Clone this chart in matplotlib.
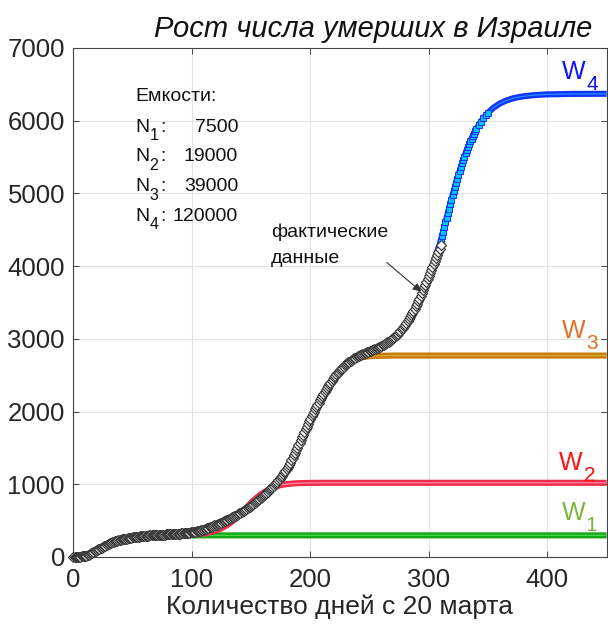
import matplotlib
matplotlib.use('Agg')
import matplotlib.pyplot as plt
import numpy as np

plt.rcParams['font.family'] = ['Liberation Sans', 'DejaVu Sans']

# ---------------- data ----------------
title = 'Рост числа умерших в Израиле'
xlabel = 'Количество дней с 20 марта'
capacity_header = 'Емкости:'
capacity_subs = ['1', '2', '3', '4']
capacity_values = ['7500', '19000', '39000', '120000']
wave_subs = ['1', '2', '3', '4']

# actual data (daily from 20 March)
fact_days = np.arange(0, 311)
fact_vals = [
    2, 2, 3, 3, 4, 5, 6, 7, 9, 11,
    14, 19, 24, 32, 40, 49, 58, 67, 76, 85,
    95, 104, 113, 121, 130, 138, 147, 155, 164, 172,
    180, 187, 194, 200, 207, 213, 219, 225, 230, 235,
    240, 243, 246, 249, 252, 254, 257, 260, 263, 265,
    268, 270, 273, 275, 277, 279, 282, 284, 286, 288,
    290, 291, 293, 294, 296, 297, 298, 299, 301, 302,
    303, 304, 305, 306, 307, 308, 309, 309, 310, 311,
    312, 313, 314, 315, 316, 317, 318, 319, 320, 321,
    322, 323, 325, 326, 328, 329, 331, 333, 335, 337,
    340, 342, 345, 348, 352, 355, 359, 363, 367, 371,
    375, 381, 387, 393, 400, 406, 413, 419, 426, 433,
    440, 446, 453, 460, 467, 474, 481, 488, 495, 502,
    510, 518, 527, 535, 544, 552, 561, 570, 579, 588,
    598, 608, 618, 628, 639, 649, 660, 671, 682, 693,
    705, 717, 730, 743, 756, 769, 783, 797, 811, 825,
    840, 855, 870, 885, 900, 916, 932, 948, 965, 982,
    1000, 1018, 1036, 1055, 1074, 1095, 1116, 1139, 1162, 1187,
    1212, 1240, 1268, 1299, 1330, 1363, 1396, 1431, 1466, 1502,
    1538, 1574, 1610, 1647, 1684, 1721, 1758, 1794, 1830, 1865,
    1900, 1933, 1966, 1998, 2030, 2061, 2092, 2122, 2152, 2181,
    2210, 2238, 2266, 2293, 2320, 2346, 2372, 2397, 2422, 2446,
    2470, 2490, 2510, 2529, 2548, 2566, 2584, 2601, 2618, 2634,
    2650, 2663, 2676, 2688, 2699, 2710, 2720, 2730, 2740, 2750,
    2760, 2768, 2775, 2782, 2789, 2796, 2803, 2810, 2817, 2824,
    2830, 2837, 2843, 2850, 2857, 2864, 2871, 2878, 2885, 2892,
    2900, 2909, 2919, 2929, 2939, 2950, 2961, 2973, 2985, 2997,
    3010, 3025, 3040, 3056, 3073, 3091, 3110, 3130, 3150, 3170,
    3190, 3215, 3240, 3267, 3294, 3323, 3352, 3383, 3414, 3447,
    3480, 3516, 3552, 3590, 3628, 3667, 3706, 3746, 3787, 3828,
    3870, 3910, 3950, 3990, 4030, 4070, 4110, 4152, 4195, 4242,
    4290,
]

# model waves (cumulative)
w1_days = [60, 70, 80, 90, 100, 110, 120, 130, 450]
w1_vals = [272, 284, 290, 294, 296, 297, 297, 297, 297]

w2_days = [100, 110, 120, 125, 130, 135, 140, 145, 150, 155, 160, 165,
           170, 175, 180, 185, 190, 200, 210, 450]
w2_vals = [305, 320, 360, 395, 440, 500, 575, 660, 745, 820, 880, 930,
           965, 988, 1002, 1010, 1015, 1019, 1020, 1020]

w3_days = [170, 175, 180, 185, 190, 195, 200, 205, 210, 215, 220, 225,
           230, 235, 240, 245, 250, 260, 270, 450]
w3_vals = [1025, 1070, 1170, 1330, 1520, 1720, 1900, 2060, 2200, 2340, 2470, 2580,
           2660, 2710, 2738, 2752, 2760, 2767, 2770, 2770]

w4_days = [240, 250, 260, 270, 280, 290, 296, 300, 304, 308,
           309, 310, 311, 312, 313, 314, 315, 316, 317, 318,
           319, 320, 321, 322, 323, 324, 325, 326, 327, 328,
           329, 330, 331, 332, 333, 334, 335, 336, 337, 338,
           339, 340, 342, 344, 346, 348, 350, 355, 360, 365,
           370, 375, 380, 390, 400, 420, 450]
w4_vals = [2762, 2800, 2870, 2990, 3160, 3430, 3650, 3830, 4030, 4250,
           4289, 4351, 4413, 4476, 4539, 4601, 4664, 4727, 4789, 4851,
           4912, 4972, 5032, 5090, 5147, 5203, 5257, 5310, 5362, 5412,
           5460, 5507, 5552, 5595, 5637, 5677, 5716, 5753, 5788, 5822,
           5853, 5884, 5938, 5988, 6034, 6075, 6111, 6184, 6237, 6275,
           6303, 6322, 6336, 6353, 6362, 6368, 6370]

# ---------------- figure ----------------
fig = plt.figure(figsize=(6.08, 6.28), dpi=100)
ax = fig.add_axes([0.1206, 0.1131, 0.8771, 0.8105])

ax.set_xlim(0, 450)
ax.set_ylim(0, 7000)
ax.set_xticks([0, 100, 200, 300, 400])
ax.set_yticks(range(0, 7001, 1000))
ax.grid(True, color='#e3e3e3', lw=0.8)
ax.set_axisbelow(True)
for s in ax.spines.values():
    s.set_color('#454545')
    s.set_linewidth(0.8)
ax.tick_params(direction='in', length=4, width=0.7, color='#454545',
               top=True, right=True, labelsize=18.5, labelcolor='#262626')
ax.tick_params(axis='x', pad=8)
ax.tick_params(axis='y', pad=6)

# waves
ax.plot(w1_days, w1_vals, color='#12a818', lw=4.4, solid_capstyle='butt', zorder=2)
ax.plot(w1_days, w1_vals, color='#4cd24c', lw=0.9, zorder=2)
ax.plot(w2_days, w2_vals, color='#f02a4c', lw=4.4, solid_capstyle='butt', zorder=2)
ax.plot(w2_days, w2_vals, color='#ff8aa0', lw=0.9, zorder=2)
ax.plot(w3_days, w3_vals, color='#c27c08', lw=4.4, solid_capstyle='butt', zorder=2)
ax.plot(w3_days, w3_vals, color='#e6aa2a', lw=0.9, zorder=2)

w4d = np.array(w4_days)
w4v = np.array(w4_vals)
ax.plot(w4d, w4v, color='#1034ff', lw=4.4, solid_capstyle='butt', zorder=2)
ax.plot(w4d[w4d >= 342], w4v[w4d >= 342], color='#2a8cff', lw=0.9, zorder=2)
sel = (w4d >= 309) & (w4d <= 350)
ax.plot(w4d[sel], w4v[sel], ls='none', marker='s', ms=4.5, mfc='#00c4ff',
        mec='#1030ff', mew=0.7, zorder=3)

# actual data
ax.plot(fact_days, fact_vals, ls='none', marker='D', ms=4.6, mfc='white',
        mec='#3c3c3c', mew=0.9, zorder=4, clip_on=False)

# wave labels (W with large lowered subscript)
wl_colors = ['#7ab43c', '#ff1010', '#e0702a', '#1010ff']
wl_x = [412, 410, 412, 412.5]
wl_base = [509, 1197, 3012, 6575]
for sub, c, xx, yy in zip(wave_subs, wl_colors, wl_x, wl_base):
    ax.text(xx, yy, 'W', color=c, fontsize=18, va='baseline', ha='left', zorder=5)
    ax.annotate(sub, xy=(xx, yy), xytext=(17.5, -8), textcoords='offset points',
                color=c, fontsize=15, va='baseline', ha='left', zorder=5)

# capacity box
fs_box = 14
ax.text(52, 6330, capacity_header, fontsize=fs_box, color='#111111', va='center')
row_base = [5850, 5440, 5030, 4620]
for sub, v, yy in zip(capacity_subs, capacity_values, row_base):
    ax.text(52, yy, 'N', fontsize=fs_box, color='#111111', va='baseline')
    ax.annotate(sub, xy=(52, yy), xytext=(10.3, -6), textcoords='offset points',
                fontsize=11.5, color='#111111', va='baseline')
    ax.annotate(':', xy=(52, yy), xytext=(18, 0), textcoords='offset points',
                fontsize=fs_box, color='#111111', va='baseline')
    ax.text(139, yy, v, fontsize=fs_box, color='#111111', va='baseline', ha='right')

# annotation
ax.text(167, 4470, 'фактические', fontsize=fs_box, color='#111111', va='center')
ax.text(167, 4110, 'данные', fontsize=fs_box, color='#111111', va='center')
ax.annotate('', xy=(293.5, 3650), xytext=(264.5, 4050),
            arrowprops=dict(arrowstyle='-|>', color='#333333', lw=0.8,
                            mutation_scale=12, shrinkA=0, shrinkB=0), zorder=6)

ax.set_title(title, fontsize=21, style='italic', color='#111111', pad=8, x=0.562)
ax.set_xlabel(xlabel, fontsize=19, color='#262626', labelpad=2)

fig.savefig('out.png', dpi=100)
